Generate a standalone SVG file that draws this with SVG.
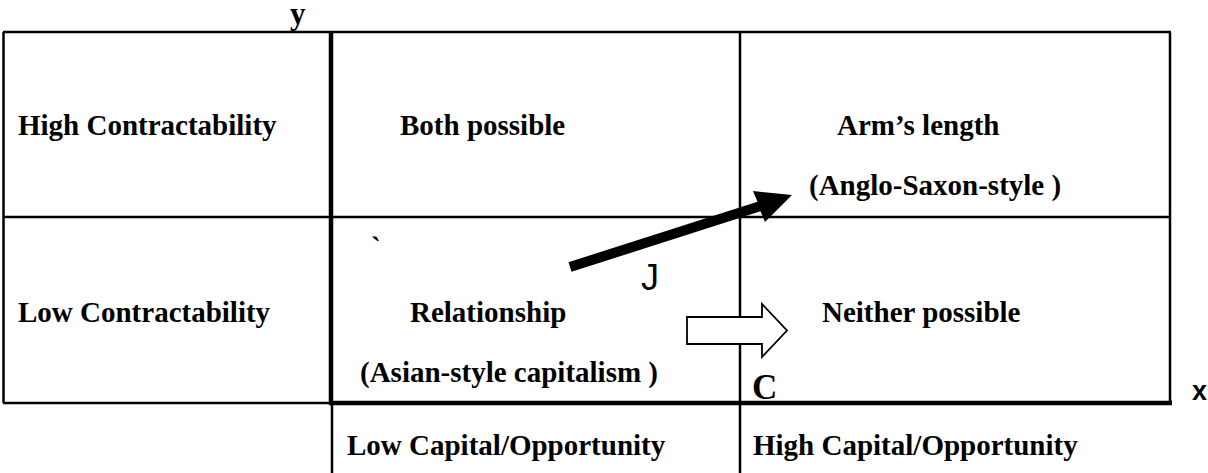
<svg xmlns="http://www.w3.org/2000/svg" width="1208" height="473" viewBox="0 0 1208 473">
  <style>
    .grid { stroke: #000; stroke-width: 2.5; fill: none; }
    .axis { stroke: #000; stroke-width: 4.5; fill: none; }
    .lbl { font-family: "Liberation Serif", "Times New Roman", serif; font-weight: bold; font-size: 29px; fill: #000; }
    .big { font-family: "Liberation Serif", "Times New Roman", serif; font-weight: bold; font-size: 35px; fill: #000; }
    .sans { font-family: "Liberation Sans", Arial, sans-serif; fill: #000; }
  </style>
  <rect width="1208" height="473" fill="#fff"/>

  <!-- table grid -->
  <g id="grid">
    <line class="grid" x1="3" y1="32" x2="1171" y2="32"/>
    <line class="grid" x1="3.5" y1="32" x2="3.5" y2="403"/>
    <line class="grid" x1="3" y1="217" x2="1170" y2="217"/>
    <line class="grid" x1="1170" y1="32" x2="1170" y2="404"/>
    <line class="grid" x1="3" y1="403" x2="331" y2="403"/>
    <line class="grid" x1="740" y1="32" x2="740" y2="473"/>
    <line class="grid" x1="332" y1="404" x2="332" y2="473"/>
  </g>

  <!-- axes -->
  <g id="axes">
    <line class="axis" x1="331" y1="31" x2="331" y2="405"/>
    <line class="axis" x1="329" y1="403" x2="1172" y2="403"/>
    <text id="axis-y" class="lbl" x="290" y="24" style="font-size:31px">y</text>
    <text id="axis-x" class="sans" x="1192" y="400" style="font-size:27px;font-weight:bold">x</text>
  </g>

  <!-- row labels -->
  <g id="row-high"><text class="lbl" x="18" y="135">High Contractability</text></g>
  <g id="row-low"><text class="lbl" x="18" y="322">Low Contractability</text></g>

  <!-- column labels -->
  <g id="col-low"><text class="lbl" x="347" y="455">Low Capital/Opportunity</text></g>
  <g id="col-high"><text class="lbl" x="753" y="455">High Capital/Opportunity</text></g>

  <!-- cells -->
  <g id="cell-both"><text class="lbl" x="400" y="135">Both possible</text></g>
  <g id="cell-arms">
    <text class="lbl" x="837" y="135">Arm’s length</text>
    <text class="lbl" x="809" y="195">(Anglo-Saxon-style )</text>
  </g>
  <g id="cell-relationship">
    <text class="lbl" x="371" y="257">`</text>
    <text class="lbl" x="410" y="322">Relationship</text>
    <text class="lbl" x="360" y="382">(Asian-style capitalism )</text>
  </g>
  <g id="cell-neither"><text class="lbl" x="822" y="322">Neither possible</text></g>

  <!-- transitions -->
  <g id="connectors">
    <polygon fill="#000" points="568.5,262.2 757.5,201.7 753,191 792,195 765,222 760.5,211.3 571.5,271.8"/>
    <polygon fill="#fff" stroke="#000" stroke-width="1.8" stroke-linejoin="miter" points="687,317 762,317 762,304 787,330.5 762,357 762,344 687,344"/>
  </g>

  <!-- path markers -->
  <g id="marker-j"><text class="sans" x="641" y="290" style="font-size:36px">J</text></g>
  <g id="marker-c"><text class="big" x="752" y="399">C</text></g>
</svg>
